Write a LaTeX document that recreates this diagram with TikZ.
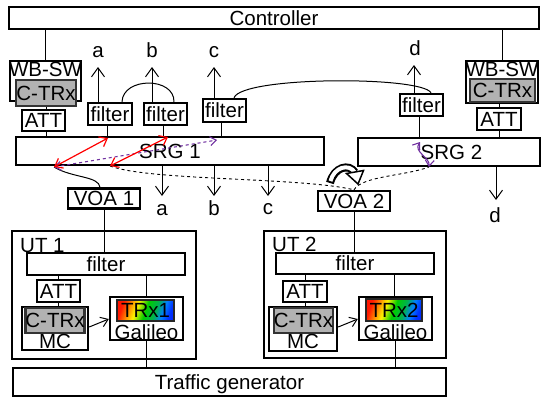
\documentclass[tikz,border=0pt]{standalone}
\usepackage{fontspec}
\setmainfont{Liberation Sans}
\usetikzlibrary{arrows.meta,calc}
\definecolor{purp}{RGB}{112,48,160}
\definecolor{ctrxgray}{RGB}{178,178,178}
\pgfdeclarehorizontalshading{rainbowsh}{100bp}{color(0bp)=(red); color(25bp)=(red!80!orange); color(32bp)=(orange); color(40bp)=(yellow!90!orange); color(50bp)=(green!80!black); color(60bp)=(teal!60!green); color(68bp)=(cyan!50!blue); color(75bp)=(blue!80!cyan); color(100bp)=(blue)}
\newcommand\dfont{\fontsize{20.5}{21}\selectfont}
\tikzset{
  box/.style={draw, line width=2.4pt, inner sep=0pt, font=\dfont, text height=14.5pt, text depth=0pt},
  ctrx/.style={box, fill=ctrxgray, draw=black!80},
  trx/.style={box, line width=1.2pt, draw=black!85, shading=rainbowsh, shading angle=-20},
  txt/.style={inner sep=0pt, font=\dfont, text height=14.5pt, text depth=0pt},
  lbl/.style={inner sep=0pt, font=\dfont},
  conn/.style={line width=1pt},
  vtip/.style={line width=1pt, -{Straight Barb[length=9pt,width=13pt]}},
  stip/.style={line width=1pt, -{Straight Barb[length=7pt,width=10pt]}},
  redarr/.style={red, line width=1.2pt, {Straight Barb[length=7pt,width=11pt]}-{Straight Barb[length=7pt,width=11pt]}},
  purarr/.style={purp, line width=1.1pt, dashed, {Straight Barb[length=6pt,width=9pt]}-{Straight Barb[length=6pt,width=9pt]}},
  purarrs/.style={purp, line width=1.1pt, {Straight Barb[length=6pt,width=9pt]}-{Straight Barb[length=6pt,width=9pt]}},
  dcurve/.style={line width=0.9pt, dashed}
}
\begin{document}
\begin{tikzpicture}[x=1pt,y=-1pt]
\useasboundingbox (0,0) rectangle (541,399);

% Controller
\node[box, minimum width=530pt, minimum height=22pt] (ctrl) at (274,18) {Controller};

% left WB-SW
\node[box, minimum width=71pt, minimum height=40pt] (lwb) at (45.5,81) {};
\node[txt] (lwbt) at (45.5,69.5) {WB-SW};
\node[ctrx, minimum width=60pt, minimum height=26pt] (lctrx) at (46,93) {C-TRx};
\node[box, minimum width=43pt, minimum height=21pt] (latt) at (43.5,120.5) {ATT};

% right WB-SW
\node[box, minimum width=72pt, minimum height=42pt] (rwb) at (502,82) {};
\node[txt] (rwbt) at (502,69.5) {WB-SW};
\node[ctrx, minimum width=65pt, minimum height=23pt] (rctrx) at (502.5,90.5) {C-TRx};
\node[box, minimum width=44pt, minimum height=22pt] (ratt) at (499,119) {ATT};

% SRGs
\node[box, minimum width=308pt, minimum height=28pt] (srg1) at (170,151) {SRG 1};
\node[box, minimum width=182pt, minimum height=28pt] (srg2) at (449,152) {};
\node[txt] (srg2t) at (451.5,152) {SRG 2};

% filters
\node[box, minimum width=44pt, minimum height=22pt] (fa) at (110,114) {filter};
\node[box, minimum width=43pt, minimum height=22pt] (fb) at (165.5,114) {filter};
\node[box, minimum width=43pt, minimum height=23pt] (fc) at (224.5,110.5) {filter};
\node[box, minimum width=43pt, minimum height=22pt] (fd) at (421.5,105) {filter};

% VOAs
\node[box, minimum width=72pt, minimum height=20pt] (voa1) at (104,198.5) {VOA 1};
\node[box, minimum width=72pt, minimum height=20pt] (voa2) at (354,201) {VOA 2};

% UT boxes
\node[box, minimum width=184pt, minimum height=128pt] (ut1) at (104,295) {};
\node[txt, anchor=west] (ut1t) at (20,245.5) {UT 1};
\node[box, minimum width=182pt, minimum height=127pt] (ut2) at (355,294.5) {};
\node[txt, anchor=west] (ut2t) at (272,244) {UT 2};

\node[box, minimum width=158pt, minimum height=22pt] (uf1) at (106,264) {filter};
\node[box, minimum width=158pt, minimum height=21pt] (uf2) at (355,263.5) {filter};
\node[box, minimum width=43pt, minimum height=22pt] (uatt1) at (58.5,291) {ATT};
\node[box, minimum width=44pt, minimum height=21pt] (uatt2) at (305,291.5) {ATT};

\node[box, minimum width=66pt, minimum height=43pt] (mc1) at (55,328.5) {};
\node[ctrx, minimum width=56pt, minimum height=25pt] (mctrx1) at (55,320.5) {C-TRx};
\node[txt] (mct1) at (55,341.5) {MC};
\node[box, minimum width=68pt, minimum height=44pt] (mc2) at (303,329) {};
\node[ctrx, minimum width=59pt, minimum height=25pt] (mctrx2) at (303.5,320.5) {C-TRx};
\node[txt] (mct2) at (303,341.5) {MC};

\node[box, minimum width=73pt, minimum height=43pt] (gal1) at (146.5,318.5) {};
\node[trx, minimum width=57pt, minimum height=21pt] (trx1) at (145.5,310.5) {TRx1};
\node[txt] (galt1) at (146.5,332) {Galileo};
\node[box, minimum width=73pt, minimum height=43pt] (gal2) at (395.5,318.5) {};
\node[trx, minimum width=56pt, minimum height=22pt] (trx2) at (394,310) {TRx2};
\node[txt] (galt2) at (395.5,332) {Galileo};

\node[box, minimum width=433pt, minimum height=28pt] (tg) at (229.5,382) {Traffic generator};

% ---- connectors top
\draw[conn] (lwb.north) -- (lwb.north |- ctrl.south);
\draw[conn] (lctrx.south) -- (lctrx.south |- latt.north);
\draw[conn] (latt.south -| lctrx.south) -- (lctrx.south |- srg1.north);
\draw[conn] (rwb.north) -- (rwb.north |- ctrl.south);
\draw[conn] (rctrx.south -| ratt.north) -- (ratt.north);
\draw[conn] (ratt.south) -- (ratt.south |- srg2.north);

\draw[conn] ($(fa.south)+(-3,0)$) -- ($(fa.south |- srg1.north)+(-3,0)$);
\draw[conn] ($(fb.south)+(-2.5,0)$) -- ($(fb.south |- srg1.north)+(-2.5,0)$);
\draw[conn] ($(fc.south)+(-3.5,0)$) -- ($(fc.south |- srg1.north)+(-3.5,0)$);
\draw[conn] ($(fd.south)+(-2.5,0)$) -- ($(fd.south |- srg2.north)+(-2.5,0)$);

% up arrows
\coordinate (ua) at (98,67);
\coordinate (ub) at (152,67);
\coordinate (uc) at (214,67);
\coordinate (ud) at (414,65);
\draw[vtip] (fa.north -| ua) -- (ua);
\draw[vtip] (fb.north -| ub) -- (ub);
\draw[vtip] (fc.north -| uc) -- (uc);
\draw[vtip] (fd.north -| ud) -- (ud);
\node[lbl, anchor=base] (la) at (98,57) {a};
\node[lbl, anchor=base] (lb) at (152,57) {b};
\node[lbl, anchor=base] (lc) at (214,57) {c};
\node[lbl, anchor=base] (ld) at (415,55) {d};

% arcs between filters
\draw[conn] ($(fa.north)+(12,0)$) .. controls ($(fa.north)+(13,-25)$) and ($(fb.north)+(9,-25)$) .. ($(fb.north)+(8.5,0)$);
\draw[conn] ($(fc.north)+(9.5,0)$) .. controls (242,76) and (422,76) .. ($(fd.north)+(9.5,0)$);

% down arrows
\coordinate (da) at (162,196);
\coordinate (db) at (214,196);
\coordinate (dc) at (268,196);
\coordinate (dd) at (496,200);
\draw[vtip] (srg1.south -| da) -- (da);
\draw[vtip] (srg1.south -| db) -- (db);
\draw[vtip] (srg1.south -| dc) -- (dc);
\draw[vtip] (srg2.south -| dd) -- (dd);
\node[lbl, anchor=base] (lda) at (162,215) {a};
\node[lbl, anchor=base] (ldb) at (214,215) {b};
\node[lbl, anchor=base] (ldc) at (268,214) {c};
\node[lbl, anchor=base] (ldd) at (495,222) {d};

% signal arrows
\coordinate (p1) at (54,167);
\coordinate (p2) at (108,138);
\coordinate (p3) at (110,166);
\coordinate (p4) at (168,137);
\coordinate (p5) at (217,140);
\coordinate (p6) at (420,142);
\coordinate (p7) at (429,167);
\draw[conn] ($(voa1.north)+(-4,0)$) .. controls (99,176) and (72,178) .. (p1);
\draw[dcurve] (p3) .. controls (150,181) and (300,177) .. (voa2.north);
\draw[dcurve] (voa2.north) .. controls (362,176) and (405,176) .. (p7);
\draw[purarr] (p1) -- (p5);
\draw[redarr] (p1) -- (p2);
\draw[redarr] (p3) -- (p4);
\draw[purarrs] (p6) .. controls (413,152) and (430,157) .. (p7);

% hollow curved arrow
\draw[line width=8pt, line cap=butt] (330,183) .. controls (334,167) and (349,163) .. (355,172.5);
\draw[line width=4pt, white, line cap=butt, shorten <=2pt] (330,183) .. controls (334,167) and (349,163) .. (355,172.5);
\draw[line width=1.5pt, fill=white, line join=miter] (358,184) -- (363.5,170.5) -- (346.5,173.5) -- cycle;

% ---- UT connectors
\draw[conn] (voa1.south) -- (voa1.south |- uf1.north);
\draw[conn] (uatt1.north) -- (uatt1.north |- uf1.south);
\draw[conn] (uatt1.south) -- (uatt1.south |- mc1.north);
\draw[conn] (gal1.north) -- (gal1.north |- uf1.south);
\draw[conn] (gal1.south) -- (gal1.south |- tg.north);
\draw[stip] ($(mc1.east)+(0,-1.5)$) -- ($(gal1.west)+(0,0.5)$);

\draw[conn] (voa2.south) -- (voa2.south |- uf2.north);
\draw[conn] (uatt2.north) -- (uatt2.north |- uf2.south);
\draw[conn] (uatt2.south) -- (uatt2.south |- mc2.north);
\draw[conn] ($(gal2.north)+(-1.5,0)$) -- ($(gal2.north |- uf2.south)+(-1.5,0)$);
\draw[conn] (gal2.south) -- (gal2.south |- tg.north);
\draw[stip] ($(mc2.east)+(0,-2)$) -- ($(gal2.west)+(0,0.5)$);
\end{tikzpicture}
\end{document}
